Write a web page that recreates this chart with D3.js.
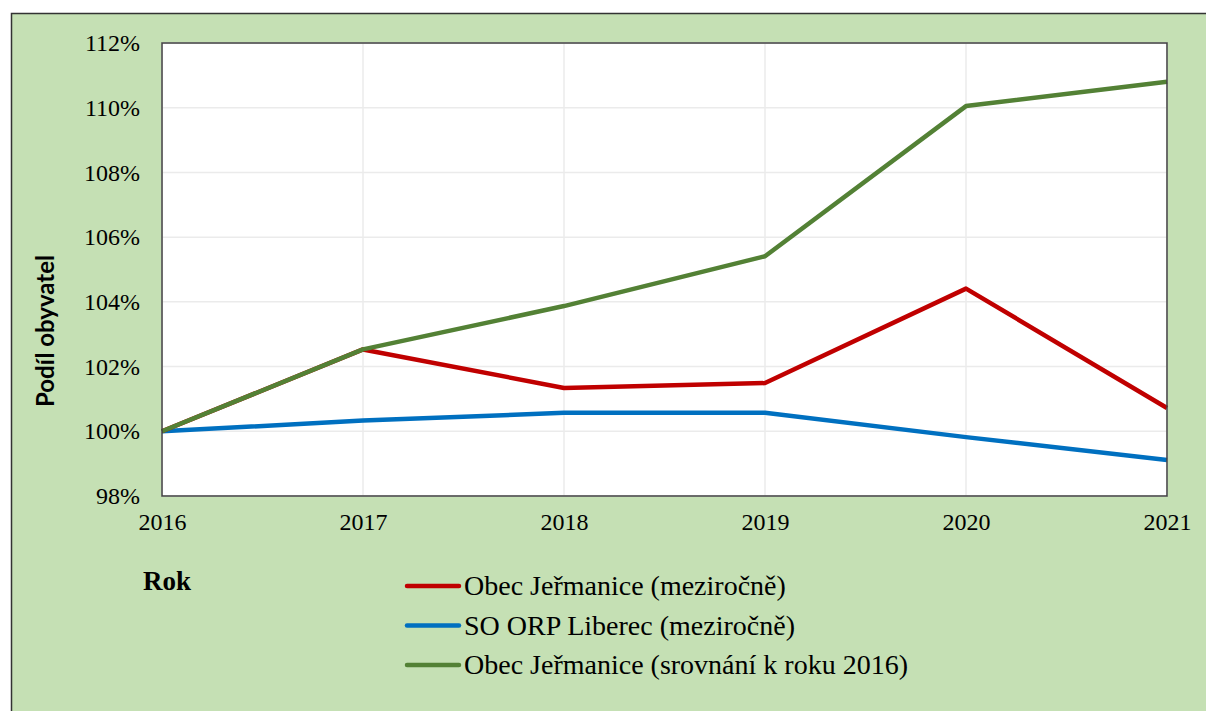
<!DOCTYPE html>
<html>
<head>
<meta charset="utf-8">
<script src="https://cdn.jsdelivr.net/npm/d3@7"></script>
<style>
html,body{margin:0;padding:0;background:#fff;}
svg{display:block;}
</style>
</head>
<body>
<svg id="chart" width="1206" height="711"></svg>
<script>
const years = [2016, 2017, 2018, 2019, 2020, 2021];
const jermaniceYoY = [100.00, 102.53, 101.34, 101.49, 104.41, 100.72];
const liberecYoY = [100.00, 100.33, 100.57, 100.57, 99.82, 99.11];
const jermanice2016 = [100.00, 102.53, 103.87, 105.41, 110.05, 110.80];
const yTicks = [98, 100, 102, 104, 106, 108, 110, 112];
const seriesNames = ["Obec Jeřmanice (meziročně)", "SO ORP Liberec (meziročně)", "Obec Jeřmanice (srovnání k roku 2016)"];
const seriesColors = ["#C00000", "#0070C0", "#538135"];
const seriesValues = [jermaniceYoY, liberecYoY, jermanice2016];

const SERIF = '"Liberation Serif"';
const SANS = '"Lato"';

const svg = d3.select("#chart");
svg.append("rect").attr("x", 11.5).attr("y", 13.5).attr("width", 1300).attr("height", 800)
  .attr("fill", "#C5E0B4").attr("stroke", "#333").attr("stroke-width", 1.5);

const L = 162, R = 1167, T = 43, B = 496;
const x = d3.scaleLinear().domain([2016, 2021]).range([L, R]);
const y = d3.scaleLinear().domain([98, 112]).range([B, T]);

svg.append("rect").attr("x", L).attr("y", T).attr("width", R - L).attr("height", B - T).attr("fill", "#fff");

svg.append("g").selectAll("line").data(yTicks).join("line")
  .attr("x1", L).attr("x2", R).attr("y1", d => y(d)).attr("y2", d => y(d))
  .attr("stroke", "#EBEBEB").attr("stroke-width", 1.5);
svg.append("g").selectAll("line").data(years).join("line")
  .attr("y1", T).attr("y2", B).attr("x1", d => x(d)).attr("x2", d => x(d))
  .attr("stroke", "#EBEBEB").attr("stroke-width", 1.5);

const yAxis = d3.axisLeft(y).tickValues(yTicks).tickSize(0).tickPadding(22).tickFormat(d => d + "%");
const gy = svg.append("g").attr("transform", `translate(${L},0)`).call(yAxis);
gy.select(".domain").remove();
gy.selectAll("text").style("font-family", SERIF).style("font-size", "24px").attr("fill", "#000");

const xAxis = d3.axisBottom(x).tickValues(years).tickSize(0).tickPadding(17).tickFormat(d3.format("d"));
const gx = svg.append("g").attr("transform", `translate(0,${B})`).call(xAxis);
gx.select(".domain").remove();
gx.selectAll("text").style("font-family", SERIF).style("font-size", "24px").attr("fill", "#000");

const line = d3.line().x((d, i) => x(years[i])).y(d => y(d));
[1, 0, 2].forEach(si => {
  svg.append("path").datum(seriesValues[si]).attr("d", line)
    .attr("fill", "none").attr("stroke", seriesColors[si]).attr("stroke-width", 4.5)
    .attr("stroke-linejoin", "round");
});

svg.append("rect").attr("x", L).attr("y", T).attr("width", R - L).attr("height", B - T)
  .attr("fill", "none").attr("stroke", "#404040").attr("stroke-width", 1.5);

svg.append("text").attr("x", 143).attr("y", 590).text("Rok")
  .style("font-family", SERIF).style("font-weight", "bold").style("font-size", "27px").attr("fill", "#000");
svg.append("text").attr("transform", "translate(54,331) rotate(-90)")
  .attr("text-anchor", "middle").text("Podíl obyvatel")
  .style("font-family", SANS).style("font-weight", "bold").style("font-size", "24px").attr("fill", "#000");

const lg = svg.append("g");
seriesNames.forEach((n, i) => {
  const yy = 586 + i * 39.5;
  lg.append("line").attr("x1", 407).attr("x2", 459).attr("y1", yy).attr("y2", yy)
    .attr("stroke", seriesColors[i]).attr("stroke-width", 4.5).attr("stroke-linecap", "round");
  lg.append("text").attr("x", 464).attr("y", yy + 9).text(n)
    .style("font-family", SERIF).style("font-size", "28px").attr("fill", "#000");
});
</script>
</body>
</html>
